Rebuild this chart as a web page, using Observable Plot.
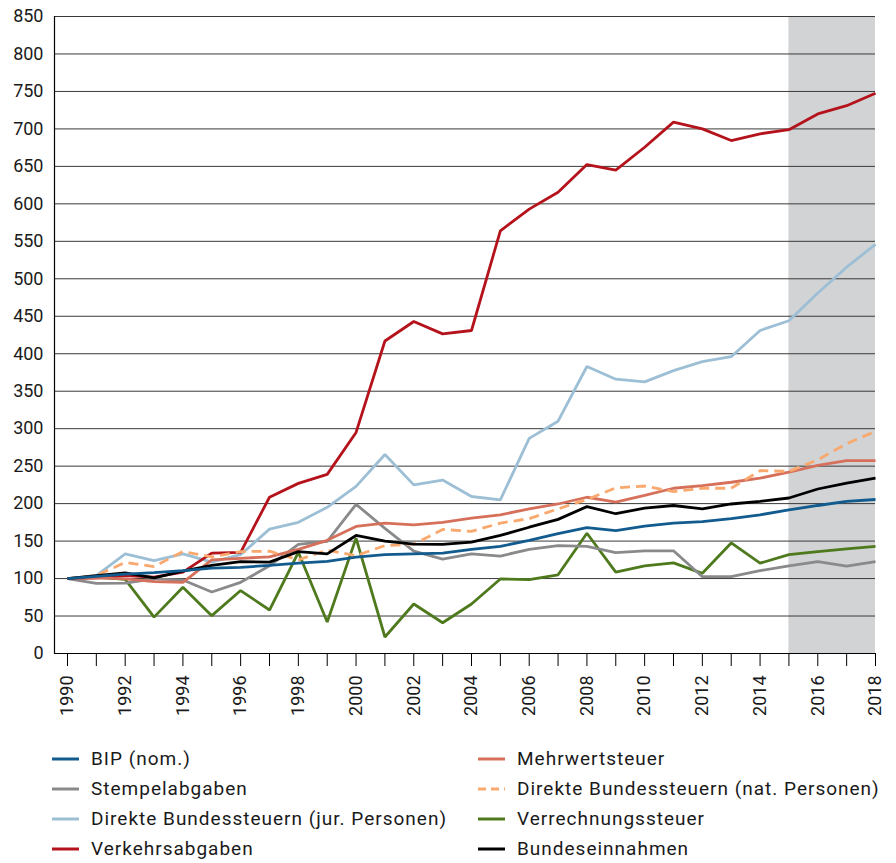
<!DOCTYPE html>
<html>
<head>
<meta charset="utf-8">
<script src="https://cdn.jsdelivr.net/npm/d3@7"></script>
<script src="https://cdn.jsdelivr.net/npm/@observablehq/plot@0.6"></script>
<style>
  html, body { margin: 0; padding: 0; background: #fff; }
  body { width: 896px; height: 863px; overflow: hidden; font-family: Roboto, "Noto Sans", sans-serif; }
  #legend { display: grid; grid-template-columns: 426px 400px; margin-left: 52px; }
  .item { display: flex; align-items: center; height: 30px; font-size: 19px; line-height: 22px; color: #1a1a1a; letter-spacing: 1px; white-space: nowrap; }
  .item svg { margin-right: 12px; flex: none; }
</style>
</head>
<body>
<div id="chart"></div>
<div id="legend"></div>
<script>
const years = [1990,1991,1992,1993,1994,1995,1996,1997,1998,1999,2000,2001,2002,2003,2004,2005,2006,2007,2008,2009,2010,2011,2012,2013,2014,2015,2016,2017,2018];
const forecastPeriod = [2015, 2018];
const yTicks = [0,50,100,150,200,250,300,350,400,450,500,550,600,650,700,750,800,850];

const bip = [100,103,106,108,110.5,114,115,117.5,120.5,123,128.5,132,133,134,139,143,151,160,168,164,170,174,176,180,185,191.5,197.5,203,205.5];
const stempel = [100,93.5,94,99.5,98,82,95,117,145.5,149.5,199,167,136.5,126,133,130,139,144,143,134.5,137,137,102.5,102.5,110.5,117,122.5,116.5,122.5];
const dbstJur = [100,104,133,124,133,122,132,166,175,195,223,265.5,225,231.5,209.5,205,287,310,383,366,362.5,377.5,389.5,396,431,444,481,515.5,546];
const verkehr = [100,101,104,102,108.5,134,135,208.5,227,239,295,417,443,426.5,431,564,593,615.5,652.5,645,675.5,709,700,684.5,693.5,699,720,731,747.5];
const mwst = [100,101,99.5,96,95,125,127,129,139,151,169.5,174,171.5,175,180.5,185,193,199.5,208.5,202,211,220.5,224,228.5,234,242,251,257.5,257.5];
const dbstNat = [100,104,121.5,116,136,129,136,136.5,125,138,130.5,144,146,165.5,163,174,180,193,205.5,221,223.5,216,220.5,220.5,244,243,258.5,280,296.5];
const vst = [100,102,99,48.5,88.5,50.5,84,58,135,42,154,22,66,41,66,99.5,98.5,105,160.5,108.5,117,121,107,147.5,120.5,132,136,139.5,143];
const bund = [100,104,107.5,101,110,117.5,122.5,122,136,133,157.5,150,146,145.5,148.5,157.5,168.5,179,196,186.5,194,197.5,193,199.5,203,207.5,219.5,227.5,234];

const series = [
  {name: "BIP (nom.)", values: bip, color: "#125b8e", dash: null, order: 8},
  {name: "Mehrwertsteuer", values: mwst, color: "#d6705b", dash: null, order: 5},
  {name: "Stempelabgaben", values: stempel, color: "#8a8a8c", dash: null, order: 2},
  {name: "Direkte Bundessteuern (nat. Personen)", values: dbstNat, color: "#f9a86e", dash: "10,6", order: 6},
  {name: "Direkte Bundessteuern (jur. Personen)", values: dbstJur, color: "#9dbfd5", dash: null, order: 3},
  {name: "Verrechnungssteuer", values: vst, color: "#4e7a1d", dash: null, order: 1},
  {name: "Verkehrsabgaben", values: verkehr, color: "#b5131c", dash: null, order: 4},
  {name: "Bundeseinnahmen", values: bund, color: "#000000", dash: null, order: 7}
];

const xMin = 1989.55;
const lineMarks = series.slice().sort((a, b) => a.order - b.order).map(s =>
  Plot.line(years.map((y, i) => ({year: y, value: s.values[i]})), {
    x: "year", y: "value", stroke: s.color, strokeWidth: 2.8,
    strokeDasharray: s.dash || undefined, strokeLinejoin: "miter", strokeLinecap: "butt"
  })
);

const chart = Plot.plot({
  width: 896,
  height: 744,
  marginLeft: 54,
  marginRight: 21,
  marginTop: 16,
  marginBottom: 91,
  style: {fontFamily: "Roboto, 'Noto Sans', sans-serif", fontSize: "18px", color: "#1a1a1a", background: "#fff"},
  x: {domain: [xMin, 2018]},
  y: {domain: [0, 850]},
  marks: [
    Plot.rect([{x1: forecastPeriod[0], x2: forecastPeriod[1], y1: 0, y2: 850}], {x1: "x1", x2: "x2", y1: "y1", y2: "y2", fill: "#d1d3d5"}),
    Plot.ruleY(yTicks.filter(d => d > 0), {stroke: "#3a3a3a", strokeWidth: 1}),
    Plot.axisY({ticks: yTicks, tickSize: 0, tickPadding: 11, tickFormat: d => String(d), fontSize: 18}),
    Plot.axisX({ticks: years, tickSize: 13, tickPadding: 9, tickRotate: -90, tickFormat: d => d % 2 === 0 ? String(d) : "", fontSize: 18, stroke: "#000", strokeWidth: 1}),
    ...lineMarks,
    Plot.ruleX([xMin], {stroke: "#000", strokeWidth: 1.2}),
    Plot.ruleY([0], {stroke: "#000", strokeWidth: 1.2})
  ]
});
document.getElementById("chart").appendChild(chart);

const legend = document.getElementById("legend");
series.forEach(s => {
  const item = document.createElement("div");
  item.className = "item";
  item.innerHTML = `<svg width="27" height="6"><line x1="0" y1="3" x2="27" y2="3" stroke="${s.color}" stroke-width="3" ${s.dash ? 'stroke-dasharray="8,5"' : ''}/></svg><span>${s.name}</span>`;
  legend.appendChild(item);
});
</script>
</body>
</html>
